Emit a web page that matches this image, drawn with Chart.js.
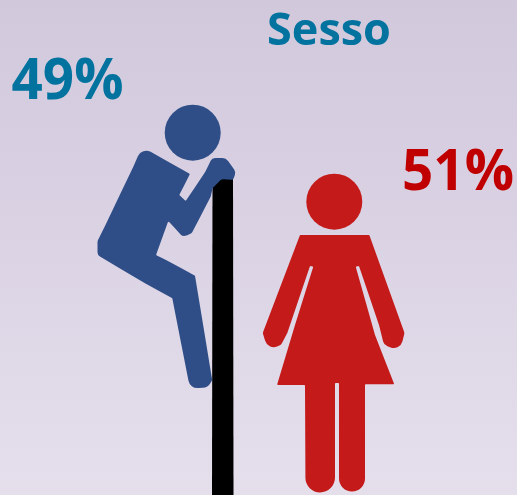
<!DOCTYPE html>
<html>
<head>
<meta charset="utf-8">
<style>html,body{margin:0;padding:0;background:#dcd5e6}canvas{display:block}</style>
<script src="https://cdn.jsdelivr.net/npm/chart.js@4"></script>
</head>
<body>
<canvas id="c" width="517" height="495"></canvas>
<script>
const chartTitle = 'Sesso';
const categories = ['Uomini', 'Donne'];
const shares = [49, 51];
const labelColors = ['#02739f', '#c00000'];

function poly(g, pts, r) {
  const n = pts.length;
  const mid = (a, b) => [(a[0] + b[0]) / 2, (a[1] + b[1]) / 2];
  const s = mid(pts[n - 1], pts[0]);
  g.beginPath();
  g.moveTo(s[0], s[1]);
  for (let i = 0; i < n; i++) {
    const p = pts[i], q = pts[(i + 1) % n], m = mid(p, q);
    g.arcTo(p[0], p[1], m[0], m[1], p[2] === undefined ? r : p[2]);
    g.lineTo(m[0], m[1]);
  }
  g.closePath();
  g.fill();
}

function sprite(x0, y0, w, h, paint) {
  const cv = document.createElement('canvas');
  cv.width = w; cv.height = h;
  const g = cv.getContext('2d');
  g.translate(-x0, -y0);
  paint(g);
  return cv;
}

const manIcon = sprite(90, 95, 155, 400, g => {
  g.fillStyle = '#000';
  g.beginPath();
  g.moveTo(212, 495); g.lineTo(212.5, 186); g.lineTo(220, 178); g.lineTo(233, 178); g.lineTo(233.5, 495);
  g.closePath(); g.fill();
  g.fillStyle = '#2f4e87';
  g.beginPath(); g.arc(192.7, 132.7, 28, 0, Math.PI * 2); g.fill();
  poly(g, [[142, 147, 9], [190, 174], [179.3, 195], [185.7, 201], [205, 172.3], [212, 158, 5],
    [226, 158, 7], [236, 172, 6], [233, 180, 2], [221.7, 179, 4], [212.7, 188], [210.7, 196.7],
    [191.7, 233.3, 4], [183, 237, 5], [168.3, 221], [156, 255], [166, 260], [195, 275.7], [212.2, 380],
    [208, 387.5, 10], [190, 388.5, 9], [172.3, 298.3], [145, 283.3],
    [97.5, 255, 5], [97.5, 241, 6], [105, 226], [133.3, 166.7]], 1);
});

const womanIcon = sprite(255, 165, 160, 330, g => {
  g.fillStyle = '#c41a1a';
  g.beginPath(); g.arc(334.3, 201.7, 28, 0, Math.PI * 2); g.fill();
  poly(g, [[300, 235], [369.3, 235], [404.5, 333, 4], [400, 351, 9], [384, 345, 7], [379, 325],
    [359, 266], [355.7, 266.7], [375, 335], [394.3, 384.3], [365, 384.3], [365, 491.5, 13],
    [339, 491.5, 13], [339, 383], [335, 383], [335, 492.5, 15], [305.5, 492.5, 14.7],
    [305, 385], [277, 385], [295, 325], [313.3, 266.7], [310, 266], [287.3, 333], [281, 345, 6], [268, 350, 9],
    [262.7, 333, 4]], 0.8);
});

const labelOffsets = [[-100, -216], [123, -160]];

const artPlugin = {
  id: 'art',
  beforeDraw(chart) {
    const c = chart.ctx, grad = c.createLinearGradient(0, 0, 0, 495);
    grad.addColorStop(0, '#d1c8dc');
    grad.addColorStop(1, '#e5dfec');
    c.save(); c.fillStyle = grad; c.fillRect(0, 0, 517, 495); c.restore();
  },
  afterDraw(chart) {
    const c = chart.ctx;
    c.save();
    c.textAlign = 'center';
    c.textBaseline = 'alphabetic';
    c.font = 'bold 45px "Open Sans"';
    c.fillStyle = labelColors[0];
    c.fillText(chartTitle, 329, 45);
    c.font = 'bold 57px "Open Sans"';
    chart.getDatasetMeta(0).data.forEach((pt, i) => {
      c.save();
      c.fillStyle = labelColors[i];
      c.translate(pt.x + labelOffsets[i][0], pt.y + labelOffsets[i][1] + 20);
      c.scale(0.96, 1);
      c.fillText(shares[i] + '%', 0, 0);
      c.restore();
    });
    c.restore();
  }
};

new Chart(document.getElementById('c'), {
  type: 'line',
  data: {
    labels: categories,
    datasets: [{
      data: shares,
      showLine: false,
      clip: false,
      pointRadius: 5,
      pointStyle: [manIcon, womanIcon]
    }]
  },
  options: {
    responsive: false,
    animation: false,
    events: [],
    layout: { padding: { left: 167.5, right: 182, top: 295, bottom: 165 } },
    scales: {
      x: { display: false, offset: false },
      y: { display: false, min: 49, max: 51, reverse: true }
    },
    plugins: { legend: { display: false }, tooltip: { enabled: false } }
  },
  plugins: [artPlugin]
});
</script>
</body>
</html>
